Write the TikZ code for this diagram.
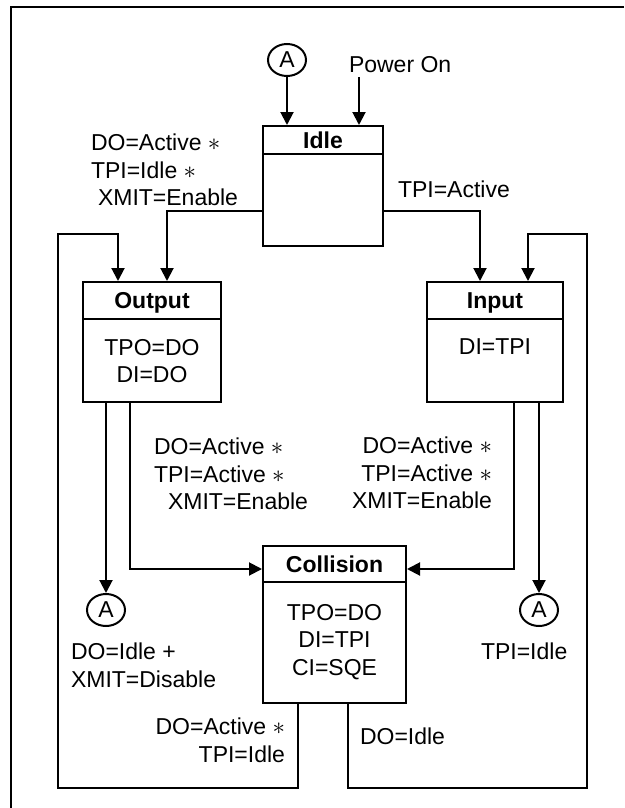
\documentclass[tikz,border=0pt]{standalone}
\usepackage{fontspec}
\setmainfont{Liberation Sans}
\usetikzlibrary{positioning, arrows.meta, calc, shapes.geometric}
\tikzset{every picture/.append style={line width=2pt}}

\begin{document}
\begin{tikzpicture}[x=1pt, y=-1pt,
    font=\fontsize{23}{27.5}\selectfont,
    state/.style={draw, inner sep=0pt, minimum height=120pt},
    head/.style={draw, inner sep=0pt, anchor=north, font=\fontsize{23}{27.5}\selectfont\bfseries, text height=16pt, text depth=0pt},
    body/.style={inner sep=0pt, anchor=north, align=center},
    lbl/.style={inner sep=0pt, align=left},
    conn/.style={draw, ellipse, inner sep=0pt, minimum width=38pt, minimum height=32pt},
    arr/.style={-{Triangle[length=13pt, width=13pt]}}]
    \useasboundingbox (0,0) rectangle (624,808);
    \draw (624,7) -- (11,7) -- (11,808);

    % states
    \node[state, minimum width=120pt] (idle) at (323,186) {};
    \node[head, minimum width=120pt, minimum height=28pt] (idlehd) at (idle.north) {Idle};
    \node[state, minimum width=138pt] (output) at (152,342) {};
    \node[head, minimum width=138pt, minimum height=37pt] (outhd) at (output.north) {Output};
    \node[body] (outbody) at ([yshift=-18pt]outhd.south) {TPO=DO\\DI=DO};
    \node[state, minimum width=136pt] (input) at (495,342) {};
    \node[head, minimum width=136pt, minimum height=37pt] (inhd) at (input.north) {Input};
    \node[body] (inbody) at ([yshift=-18pt]inhd.south) {DI=TPI};
    \node[state, minimum width=143pt, minimum height=157pt] (collision) at (334.5,624.5) {};
    \node[head, minimum width=143pt, minimum height=36pt] (colhd) at (collision.north) {Collision};
    \node[body] (colbody) at ([yshift=-20pt]colhd.south) {TPO=DO\\DI=TPI\\CI=SQE};

    % connectors
    \node[conn] (atop) at (287,60) {A};
    \node[conn] (aleft) at (106,610) {A};
    \node[conn] (aright) at (539,610) {A};

    % labels
    \node[lbl, anchor=north west] (pwron) at (348,55) {Power On};
    \node[lbl, anchor=north west] (idleout) at (90,133) {DO=Active $\ast$\\TPI=Idle $\ast$\\\hspace*{7pt}XMIT=Enable};
    \node[lbl, anchor=north west] (idlein) at (397,180) {TPI=Active};
    \node[lbl, anchor=north west] (outcol) at (153,437) {DO=Active $\ast$\\TPI=Active $\ast$\\\hspace*{14pt}XMIT=Enable};
    \node[lbl, anchor=north east, align=right] (incol) at (493,436) {DO=Active $\ast$\\TPI=Active $\ast$\\XMIT=Enable};
    \node[lbl, anchor=north west] (outidle) at (70,642) {DO=Idle +\\XMIT=Disable};
    \node[lbl, anchor=north west] (inidle) at (480,642) {TPI=Idle};
    \node[lbl, anchor=north east, align=right] (colout) at (286,717) {DO=Active $\ast$\\TPI=Idle};
    \node[lbl, anchor=north west] (colin) at (359,727) {DO=Idle};

    % transitions
    \coordinate (pwrtip) at (359,77);
    \draw[arr] (atop) -- (atop |- idle.north);
    \draw[arr] (pwrtip) -- (pwrtip |- idle.north);
    \draw[arr] ([yshift=36pt]idle.south west) -| ([xshift=15pt]output.north);
    \draw[arr] ([yshift=36pt]idle.south east) -| ([xshift=-15pt]input.north);
    \draw[arr] ([xshift=36pt]collision.south west) -- ++(0,84) -| (58,234) -| ([xshift=-34pt]output.north);
    \draw[arr] ([xshift=-59pt]collision.south east) -- ++(0,84) -| (587,234) -| ([xshift=33pt]input.north);
    \draw[arr] ([xshift=-46pt]output.south) -- (aleft);
    \draw[arr] ([xshift=-22pt]output.south) |- ([yshift=-24pt]collision.north west);
    \draw[arr] ([xshift=19pt]input.south) |- ([yshift=-24pt]collision.north east);
    \draw[arr] ([xshift=44pt]input.south) -- (aright);
\end{tikzpicture}
\end{document}
